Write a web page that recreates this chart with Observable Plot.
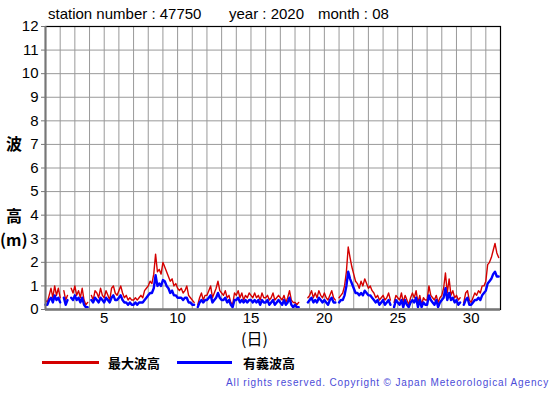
<!DOCTYPE html>
<html><head><meta charset="utf-8">
<script src="https://cdn.jsdelivr.net/npm/d3@7"></script>
<script src="https://cdn.jsdelivr.net/npm/@observablehq/plot@0.6"></script>
<style>
body{margin:0;background:#fff;font-family:"Liberation Sans",Arial,sans-serif;}
#wrap{position:relative;width:555px;height:395px;overflow:hidden;}
.abs{position:absolute;white-space:nowrap;}
.cjk{font-family:"Noto Sans CJK JP",sans-serif;font-weight:bold;}
</style></head><body>
<div id="wrap"></div>
<script>
const stationNumber = "47750", year = "2020", month = "08";
const samplesPerDay = 8; // 3-hourly readings, day 1 .. day 31
const maxWave = [
 0.4,0.3,0.6,0.9,0.5,1.0,0.6,0.9,
 0.5,null,0.8,0.4,0.6,null,0.9,0.7,
 1.0,0.6,0.8,0.5,0.9,0.4,0.2,0.3,
 null,0.6,0.4,0.8,0.7,0.5,0.9,0.6,
 0.5,0.8,0.6,0.4,0.9,1.0,0.7,0.6,
 0.8,1.0,0.7,0.5,0.6,0.4,0.5,0.4,
 0.4,0.5,0.4,0.5,0.6,0.5,0.8,0.9,
 1.0,1.2,1.1,1.5,2.35,1.6,1.7,1.5,
 2.0,1.8,1.6,1.4,1.2,1.3,1.0,1.1,
 0.9,0.8,0.9,0.7,0.8,1.0,0.6,0.5,
 0.4,0.3,null,0.2,0.5,0.7,0.4,0.6,
 0.6,0.8,1.0,0.5,0.7,0.9,1.2,0.8,
 0.7,0.6,0.8,0.5,0.6,0.3,0.2,0.7,
 0.6,0.8,0.5,0.7,0.4,0.6,0.5,0.7,
 0.6,0.5,0.7,0.5,0.6,0.4,0.7,0.5,
 0.5,0.6,0.4,0.5,0.7,0.4,0.5,0.6,
 0.5,0.4,0.6,0.3,0.5,0.8,0.4,0.3,
 0.3,0.2,0.3,null,null,null,null,0.5,
 0.6,0.8,0.5,0.7,0.5,0.8,0.6,0.5,
 0.7,0.5,0.4,0.6,0.8,0.5,0.4,null,
 0.5,0.6,0.7,1.0,1.6,2.65,2.2,1.8,
 1.5,1.2,1.1,0.9,1.2,1.0,1.3,1.1,
 0.9,1.0,0.8,0.7,0.5,0.6,0.4,0.5,
 0.6,0.4,0.5,0.7,0.4,null,0.3,0.6,
 0.5,0.4,0.7,0.3,0.6,0.4,0.2,0.5,
 0.7,0.5,0.8,0.3,0.6,0.2,0.5,0.4,
 0.4,1.0,0.6,0.5,0.4,0.6,0.3,0.5,
 0.6,0.9,1.55,0.7,1.3,0.6,0.8,0.5,
 0.6,0.4,0.5,null,0.3,0.7,0.8,0.4,
 0.3,0.5,0.7,0.6,0.8,0.7,1.0,1.0,
 1.2,1.9,2.0,2.2,2.5,2.8,2.4,2.2
];
const sigWave = [
 0.2,0.2,0.4,0.5,0.3,0.6,0.4,0.5,
 0.3,null,0.5,0.2,0.4,null,0.5,0.4,
 0.6,0.4,0.5,0.3,0.5,0.2,0.1,0.1,
 null,0.4,0.3,0.5,0.4,0.3,0.5,0.4,
 0.3,0.5,0.4,0.3,0.5,0.6,0.4,0.4,
 0.5,0.6,0.4,0.3,0.3,0.2,0.3,0.2,
 0.2,0.3,0.2,0.3,0.3,0.3,0.4,0.5,
 0.6,0.7,0.7,0.9,1.45,1.0,1.1,1.0,
 1.25,1.2,1.0,0.9,0.7,0.8,0.6,0.6,
 0.5,0.5,0.5,0.4,0.5,0.5,0.3,0.3,
 0.2,0.2,null,0.1,0.3,0.4,0.3,0.4,
 0.4,0.5,0.6,0.3,0.4,0.5,0.7,0.5,
 0.4,0.4,0.5,0.3,0.4,0.2,0.1,0.4,
 0.4,0.5,0.3,0.4,0.3,0.4,0.3,0.4,
 0.4,0.3,0.4,0.3,0.4,0.2,0.4,0.3,
 0.3,0.4,0.2,0.3,0.4,0.2,0.3,0.4,
 0.3,0.2,0.4,0.2,0.3,0.5,0.2,0.1,
 0.2,0.1,0.1,null,null,null,null,0.3,
 0.4,0.5,0.3,0.4,0.3,0.5,0.4,0.3,
 0.4,0.3,0.2,0.4,0.5,0.3,0.3,null,
 0.3,0.4,0.4,0.6,1.0,1.6,1.3,1.1,
 0.9,0.7,0.7,0.6,0.7,0.6,0.8,0.7,
 0.6,0.6,0.5,0.4,0.3,0.4,0.2,0.3,
 0.4,0.2,0.3,0.4,0.2,null,0.1,0.4,
 0.3,0.2,0.4,0.1,0.4,0.2,0.1,0.3,
 0.4,0.3,0.5,0.1,0.4,0.1,0.3,0.2,
 0.2,0.6,0.4,0.3,0.2,0.4,0.1,0.3,
 0.4,0.5,0.9,0.4,0.7,0.4,0.5,0.3,
 0.4,0.2,0.3,null,0.2,0.4,0.5,0.2,
 0.2,0.3,0.4,0.4,0.5,0.4,0.6,0.7,
 0.8,1.1,1.2,1.3,1.5,1.6,1.4,1.4
];
const xTicks = [5,10,15,20,25,30];
const yTicks = [0,1,2,3,4,5,6,7,8,9,10,11,12];
const dayGrid = d3.range(1, 33);
const legendLabels = ["最大波高","有義波高"];
const colors = ["#d40000","#0000ff"];

const rows = maxWave.map((v,i)=>({t: 1 + i/samplesPerDay, max: v, sig: sigWave[i]}));

const chart = Plot.plot({
  width: 555, height: 345,
  marginLeft: 45, marginRight: 55, marginTop: 26, marginBottom: 36,
  style: {fontFamily: '"Liberation Sans", Arial, sans-serif', fontSize: "15px", color: "#000", background: "#fff"},
  x: {domain: [1, 32], ticks: xTicks, tickSize: 0, tickPadding: 3, label: null},
  y: {domain: [0, 12], ticks: yTicks, tickSize: 4, tickPadding: 3, label: null},
  marks: [
    Plot.ruleX(dayGrid, {stroke: "#999", strokeWidth: 1}),
    Plot.ruleY(yTicks, {stroke: "#999", strokeWidth: 1}),
    Plot.line(rows, {x: "t", y: "max", stroke: colors[0], strokeWidth: 1.4, curve: "linear"}),
    Plot.line(rows, {x: "t", y: "sig", stroke: colors[1], strokeWidth: 2.4, curve: "linear"}),
    Plot.frame({stroke: "#000", strokeWidth: 1.2}),
    Plot.ruleX([1], {stroke: "#777", strokeWidth: 2}),
    Plot.ruleY([0], {stroke: "#777", strokeWidth: 2.5}),
    Plot.axisX({ticks: xTicks, tickSize: 0, tickPadding: 3, fontSize: 15}),
    Plot.axisY({ticks: yTicks, tickSize: 4, tickPadding: 3, fontSize: 15, stroke: "#777"})
  ]
});
const wrap = document.getElementById("wrap");
chart.style.position = "absolute"; chart.style.left = "0px"; chart.style.top = "0px";
wrap.appendChild(chart);

function add(html, css, cls){
  const d = document.createElement("div");
  d.className = "abs" + (cls ? " " + cls : "");
  d.innerHTML = html;
  Object.assign(d.style, css);
  wrap.appendChild(d);
  return d;
}
add(`station number : ${stationNumber}`, {left:"48px", top:"5px", fontSize:"15px"});
add(`year : ${year}`, {left:"229px", top:"5px", fontSize:"15px"});
add(`month : ${month}`, {left:"318px", top:"5px", fontSize:"15px"});
add("(日)", {left:"241px", top:"330px", fontSize:"16px", lineHeight:"16px", fontFamily:'"Noto Sans CJK JP",sans-serif'});
add("波", {left:"6px", top:"131px", fontSize:"16px"}, "cjk");
add("高", {left:"6px", top:"203px", fontSize:"16px"}, "cjk");
add("(m)", {left:"0px", top:"227px", fontSize:"16px"}, "cjk");
// legend
add("", {left:"42px", top:"361px", width:"57px", height:"3px", background: colors[0]});
add(legendLabels[0], {left:"108px", top:"353px", fontSize:"13px"}, "cjk");
add("", {left:"177px", top:"361px", width:"55px", height:"3px", background: colors[1]});
add(legendLabels[1], {left:"243px", top:"353px", fontSize:"13px"}, "cjk");
add("All rights reserved. Copyright © Japan Meteorological Agency",
    {right:"6px", top:"377px", fontSize:"10px", letterSpacing:"0.85px", color:"#4b4bd8"});
</script>
</body></html>
